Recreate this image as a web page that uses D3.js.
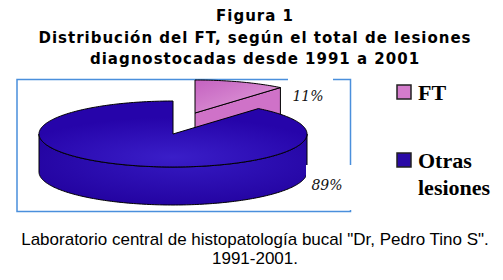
<!DOCTYPE html>
<html lang="es">
<head>
<meta charset="utf-8">
<title>Figura 1</title>
<script src="https://cdn.jsdelivr.net/npm/d3@7"></script>
<style>
  body { margin: 0; background: #fff; }
  svg { display: block; }
</style>
</head>
<body>
<script>
// datos
var categories = ["FT", "Otras lesiones"];
var values = [11, 89];
var pctLabels = ["11%", "89%"];
var legendLines = [["FT"], ["Otras", "lesiones"]];
var titleLines = ["Figura 1", "Distribución del FT, según el total de lesiones", "diagnostocadas desde 1991 a 2001"];
var captionLines = ["Laboratorio central de histopatología bucal \"Dr, Pedro Tino S\".", "1991-2001."];

var w = 503, h = 280;
var svg = d3.select("body").append("svg").attr("width", w).attr("height", h);

var defs = svg.append("defs");
var gPink = defs.append("linearGradient").attr("id", "gPink")
  .attr("x1", "0").attr("y1", "0").attr("x2", "1").attr("y2", "1");
gPink.append("stop").attr("offset", "0").attr("stop-color", "#c462c0");
gPink.append("stop").attr("offset", "1").attr("stop-color", "#e4a2dc");
var gBlue = defs.append("radialGradient").attr("id", "gBlue")
  .attr("cx", "0.5").attr("cy", "0.85").attr("r", "0.6");
gBlue.append("stop").attr("offset", "0").attr("stop-color", "#3a1ec8");
gBlue.append("stop").attr("offset", "1").attr("stop-color", "#2604aa");
var gSide = defs.append("radialGradient").attr("id", "gSide")
  .attr("cx", "0.55").attr("cy", "0.4").attr("r", "0.6");
gSide.append("stop").attr("offset", "0").attr("stop-color", "#3418c0");
gSide.append("stop").attr("offset", "1").attr("stop-color", "#2404a2");

var colors = d3.scaleOrdinal().domain(categories).range(["url(#gPink)", "url(#gBlue)"]);
var legendColors = d3.scaleOrdinal().domain(categories).range(["#d47ccc", "#2a0aa6"]);

// title
svg.append("g").selectAll("text")
  .data(titleLines).enter().append("text")
  .attr("x", 255)
  .attr("y", function(d, i) { return 21 + i * 21.5; })
  .attr("text-anchor", "middle")
  .attr("font-family", "DejaVu Sans, Verdana, sans-serif")
  .attr("font-weight", "bold")
  .attr("font-size", "15px")
  .attr("letter-spacing", "1px")
  .attr("fill", "#000")
  .text(function(d) { return d; });

// frame
svg.append("rect")
  .attr("x", 17).attr("y", 79.5).attr("width", 333.5).attr("height", 132)
  .attr("fill", "none").attr("stroke", "#4a8fdc").attr("stroke-width", 1.5);

// pie geometry
var cx = 173, cy = 134, rx = 134, ry = 33, depth = 38;
var pie = d3.pie().sort(null).value(function(d) { return d; });
var arcs = pie(values);

function pt(a, dy) {
  return [cx + rx * Math.sin(a), cy - ry * Math.cos(a) + (dy || 0)];
}
function arcPts(a0, a1, dy) {
  var n = Math.max(2, Math.ceil(Math.abs(a1 - a0) / 0.02));
  var out = [];
  for (var k = 0; k <= n; k++) out.push(pt(a0 + (a1 - a0) * k / n, dy));
  return out;
}
function poly(p) { return "M" + p.map(function(q) { return q[0].toFixed(2) + "," + q[1].toFixed(2); }).join("L") + "Z"; }

// explode offset of FT slice
var explode = [22, -21];

var pieG = svg.append("g");

function drawSlice(d, off, key) {
  var g = pieG.append("g").attr("transform", "translate(" + off[0] + "," + off[1] + ")");
  var a0 = d.startAngle, a1 = d.endAngle;
  var c = [cx, cy];
  // cut face at end angle (visible if it faces front)
  if (a1 < Math.PI / 2) {
    g.append("path")
      .attr("d", poly([c, pt(a1), pt(a1, depth), [cx, cy + depth]]))
      .attr("fill", key === 0 ? "#cf72c8" : "url(#gSide)")
      .attr("stroke", "#000").attr("stroke-width", 1);
  }
  // outer side, front half only
  var s = Math.max(a0, Math.PI / 2), e = Math.min(a1, 3 * Math.PI / 2);
  if (e > s) {
    var top = arcPts(s, e, 0), bot = arcPts(e, s, depth);
    g.append("path").attr("d", poly(top.concat(bot)))
      .attr("fill", key === 0 ? "#cf72c8" : "url(#gSide)")
      .attr("stroke", "#000").attr("stroke-width", 1);
  }
  // top face
  g.append("path").attr("d", poly([c].concat(arcPts(a0, a1, 0))))
    .attr("fill", colors(categories[key]))
    .attr("stroke", "#000").attr("stroke-width", 1);
}

drawSlice(arcs[0], explode, 0);
drawSlice(arcs[1], [0, 0], 1);

// percentage labels (white box breaks the frame)
var lab = [
  { t: pctLabels[0], x: 308, y: 101, box: [288, 72, 45, 34] },
  { t: pctLabels[1], x: 327, y: 190, box: [306, 165, 50, 45] }
];
var labG = svg.append("g").selectAll("g").data(lab).enter().append("g");
labG.append("rect")
  .attr("x", function(d) { return d.box[0]; })
  .attr("y", function(d) { return d.box[1]; })
  .attr("width", function(d) { return d.box[2]; })
  .attr("height", function(d) { return d.box[3]; })
  .attr("fill", "#fff");
labG.append("text")
  .attr("x", function(d) { return d.x; })
  .attr("y", function(d) { return d.y; })
  .attr("text-anchor", "middle")
  .attr("font-family", "DejaVu Serif, serif")
  .attr("font-style", "italic")
  .attr("font-size", "14px")
  .attr("fill", "#111")
  .text(function(d) { return d.t; });

// legend
var legY = [85, 153];
var leg = svg.append("g").selectAll("g").data(categories).enter().append("g")
  .attr("transform", function(d, i) { return "translate(397," + legY[i] + ")"; });
leg.append("rect")
  .attr("width", 14).attr("height", 14)
  .attr("fill", function(d) { return legendColors(d); })
  .attr("stroke", "#222").attr("stroke-width", 1.5);
leg.each(function(d, i) {
  d3.select(this).selectAll("text").data(legendLines[i]).enter().append("text")
    .attr("x", 21)
    .attr("y", function(t, j) { return 15 + j * 27; })
    .attr("font-family", "Liberation Serif, Times New Roman, serif")
    .attr("font-weight", "bold")
    .attr("font-size", "22px")
    .attr("fill", "#000")
    .text(function(t) { return t; });
});

// caption
svg.append("g").selectAll("text")
  .data(captionLines).enter().append("text")
  .attr("x", 255)
  .attr("y", function(d, i) { return 245 + i * 19; })
  .attr("text-anchor", "middle")
  .attr("font-family", "Liberation Sans, Arial, sans-serif")
  .attr("font-size", "17px")
  .attr("fill", "#000")
  .text(function(d) { return d; });
</script>
</body>
</html>
